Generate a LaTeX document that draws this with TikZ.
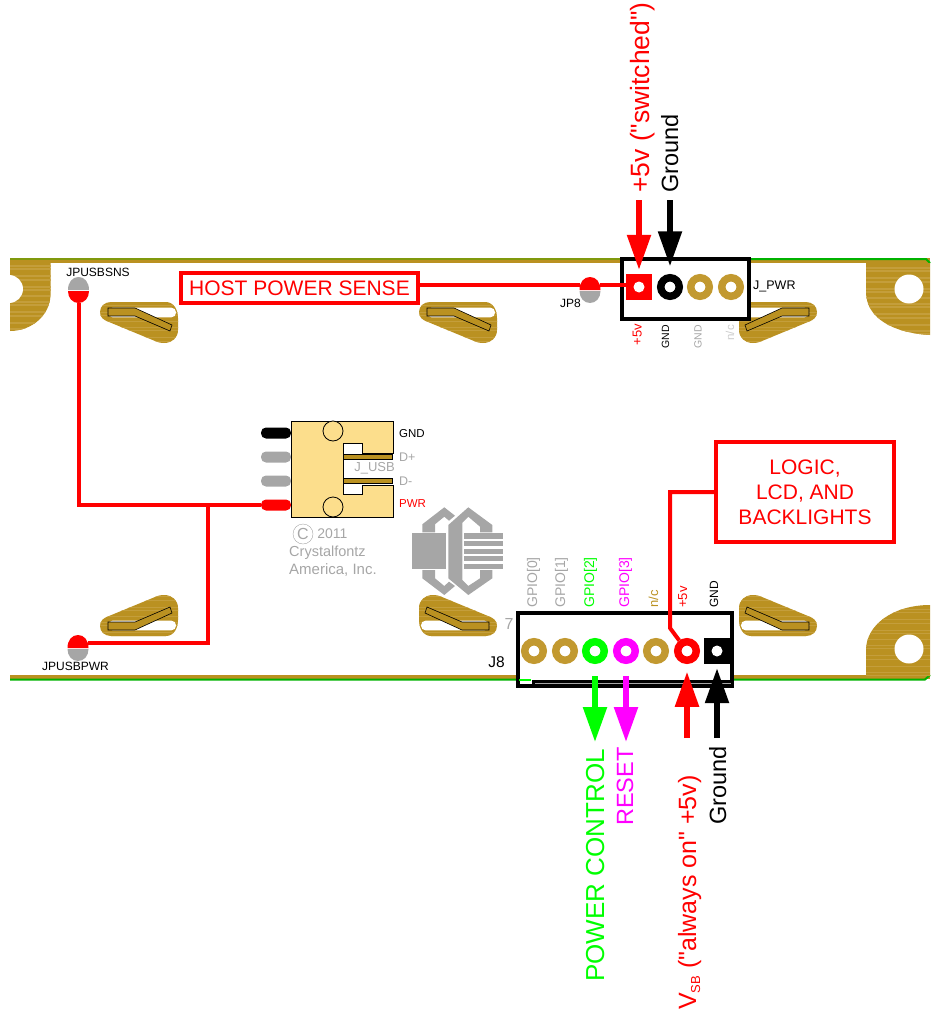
\documentclass[tikz,border=0pt]{standalone}
\usepackage{fontspec}
\setmainfont[Ligatures=TeXOff]{Liberation Sans}
\usepackage{tikz}
\usetikzlibrary{arrows.meta}
\usetikzlibrary{positioning}
\definecolor{cfgold}{rgb}{0.73, 0.57, 0.13}
\definecolor{cfstreak}{rgb}{0.77, 0.62, 0.23}
\definecolor{cfring}{rgb}{0.76, 0.60, 0.19}
\definecolor{cfolive}{rgb}{0.50, 0.60, 0.05}
\definecolor{cfgreen}{rgb}{0, 0.70, 0}
\definecolor{cfgray}{rgb}{0.65, 0.65, 0.65}
\definecolor{cflight}{rgb}{0.80, 0.80, 0.80}
\definecolor{cfyellow}{rgb}{0.99, 0.87, 0.55}
\definecolor{cflime}{rgb}{0, 1, 0}
\definecolor{cfmagenta}{rgb}{1, 0, 1}
\newcommand{\lblsize}[1]{\fontsize{#1}{#1}\selectfont}
\tikzset{wire/.style = {draw=red, line width=4, line join=miter}}
\tikzset{pinarrow/.style = {line width=5.5, -{Triangle[length=35, width=23]}}}
\tikzset{padring/.style = {circle, draw=cfring, fill=white, line width=7.5, inner sep=0, minimum size=18.5}}
\tikzset{padsquare/.style = {rectangle, inner sep=0, minimum size=26}}
\tikzset{padhole/.style = {circle, fill=white, inner sep=0, minimum size=11}}
\tikzset{hdrbox/.style = {rectangle, draw=black, fill=white, line width=4, inner sep=0}}
\tikzset{redbox/.style = {rectangle, draw=red, fill=white, line width=4, inner sep=0, text=red}}
\tikzset{vlabel/.style = {rotate=90, inner sep=0}}
\tikzset{hlabel/.style = {inner sep=0}}
\tikzset{pinwire/.style = {rectangle, rounded corners=5, inner sep=0, minimum width=30, minimum height=11}}
\tikzset{wood/.style = {fill=cfgold, path picture = {
    \foreach \yy in {-58, -53, -47, -44, -37, -31, -28, -21, -17, -10, -7, -1, 5, 8, 15, 19, 26, 32, 35, 42, 47, 54}
      \draw [cfstreak, line width=1.2] ([shift={(-100, \yy)}] path picture bounding box.center) -- ++(200, 0);
  }}}
\tikzset{slot/.pic = {
    \path [wood] (0, 10) .. controls (0, 4) and (5, 0) .. (11, 0) -- (66, 0)
      .. controls (74, 0) and (78, 8) .. (78, 16) -- (78, 28)
      .. controls (78, 36) and (72, 41) .. (64, 41)
      .. controls (60, 41) and (57, 40) .. (55, 39) -- (9, 20)
      .. controls (3, 18) and (0, 15) .. (0, 10) -- cycle;
    \fill [white, rounded corners=4.5] (8, 5.7) rectangle (76, 15.3);
    \draw [fill=cfgold, line width=0.6] (8, 6) -- (35, 6) -- (72, 23) -- (70, 29) -- (35, 14) -- (8, 14) -- cycle;
  }}
\tikzset{pics/jumper/.style 2 args = {code = {
    \fill [#1] (-10.5, 13) .. controls (-10.5, 5) and (-6, 0) .. (0, 0) .. controls (6, 0) and (10.5, 5) .. (10.5, 13) -- cycle;
    \fill [#2] (-10.5, 14) .. controls (-10.5, 21) and (-6, 26) .. (0, 26) .. controls (6, 26) and (10.5, 21) .. (10.5, 14) -- cycle;
  }}}

\begin{document}
\begin{tikzpicture}[x=1pt, y=-1pt]
  \useasboundingbox (0, 0) rectangle (930, 1011);

  % board edges
  \fill [cfgold] (10, 258) rectangle (930, 263);
  \fill [cfolive] (10, 258) rectangle (750, 260);
  \draw [cfgreen, line width=2] (750, 259) -- (926, 259) -- (930, 263);
  \fill [cfgold] (10, 675) rectangle (930, 679);
  \draw [cfgreen, line width=2] (10, 679.5) -- (925, 679.5) -- (930, 675);

  % board corners
  \path [wood] (10, 263) -- (50.5, 263) -- (50.5, 295) .. controls (50, 315) and (32, 331) .. (10, 331) -- cycle;
  \fill [white] (9, 289) circle [radius=14];
  \path [wood] (866, 263) -- (930, 263) -- (930, 335) .. controls (893, 333) and (866, 318) .. (866, 292) -- cycle;
  \fill [white] (909, 289) circle [radius=14.5];
  \path [wood] (866, 676) -- (930, 676) -- (930, 605) .. controls (893, 605) and (866, 625) .. (866, 650) -- cycle;
  \fill [white] (909, 649) circle [radius=14.5];

  \pic at (100, 302) {slot};
  \pic at (419, 302) {slot};
  \pic [xscale=-1] at (817, 302) {slot};
  \pic [yscale=-1] at (100, 636) {slot};
  \pic [xscale=-1, yscale=-1] at (497, 636) {slot};
  \pic [xscale=-1, yscale=-1] at (817, 636) {slot};

  % logo
  \fill [cfgray] (412, 533) rectangle (446, 569);
  \foreach \ya/\yb in {533.3/539.3, 541.3/546.3, 549/553.7, 556.3/561.3, 563.7/569}
    \fill [cfgray] (464, \ya) rectangle (503, \yb);
  \fill [cfgray] (422.3, 532.3) -- (422.3, 524.3) -- (444.3, 507.3) -- (455, 515.7) -- (449, 520.7) -- (444.3, 516.7) -- (435, 524.3) -- (435, 532.3) -- cycle;
  \fill [cfgray] (422.3, 570) -- (422.3, 578.3) -- (444.3, 595) -- (455, 586) -- (449, 581.7) -- (444.3, 586) -- (435, 578.3) -- (435, 570) -- cycle;
  \fill [cfgray] (448.3, 525) -- (468.3, 507.3) -- (492.3, 525) -- (492.3, 532.3) -- (480, 532.3) -- (480, 526.7) -- (468.3, 516.7) -- (462.3, 522.7)
    -- (462.3, 580) -- (468.3, 586) -- (480, 578.3) -- (480, 570) -- (492.3, 570) -- (492.3, 578.3) -- (468.3, 595) -- (448.3, 578.3) -- cycle;

  % USB connector
  \node [pinwire, fill=black] (usbgnd) at (276, 433) {};
  \node [pinwire, fill=cfgray] (usbdp) at (276, 457) {};
  \node [pinwire, fill=cfgray] (usbdm) at (276, 481) {};
  \node [pinwire, fill=red] (usbpwr) at (276, 505) {};
  \draw [fill=cfyellow, line width=0.8] (291, 421) -- (393, 421) -- (393, 453) -- (362, 453) -- (362, 443) -- (343, 443) -- (343, 494) -- (362, 494) -- (362, 485) -- (393, 485) -- (393, 517) -- (291, 517) -- cycle;
  \draw [fill=cfyellow, line width=0.8] (333, 431) circle [radius=10];
  \draw [fill=cfyellow, line width=0.8] (333, 507) circle [radius=10];
  \draw [fill=cfgold, line width=0.5] (343, 454.5) rectangle (392, 459.5);
  \draw [fill=cfgold, line width=0.5] (343, 478.5) rectangle (392, 483.5);
  \node [hlabel, text=cfgray, font=\lblsize{13}] (jusb) at (374.5, 468) {J\_USB};
  \node [hlabel, anchor=west, font=\lblsize{11.5}] (lgnd) at (399, 434) {GND};
  \node [hlabel, anchor=west, text=cfgray, font=\lblsize{12.5}] (ldp) at (399, 457) {D+};
  \node [hlabel, anchor=west, text=cfgray, font=\lblsize{12.5}] (ldm) at (399, 481) {D-};
  \node [hlabel, anchor=west, text=red, font=\lblsize{11.5}] (lpwr) at (399, 504) {PWR};

  % copyright
  \node [circle, draw=cfgray, inner sep=0, minimum size=20, text=cfgray, font=\lblsize{16}] (cmark) at (303, 534) {C};
  \node [hlabel, right=4 of cmark, text=cfgray, font=\lblsize{14}] (cyear) {2011};
  \node [hlabel, anchor=west, text=cfgray, font=\lblsize{14.5}] (cname) at (289, 553) {Crystalfontz};
  \node [hlabel, anchor=west, text=cfgray, font=\lblsize{15}] (caddr) at (289, 570) {America, Inc.};

  % jumpers
  \pic at (78.5, 277) {jumper={cfgray}{red}};
  \pic at (590, 277) {jumper={red}{cfgray}};
  \pic at (78, 635) {jumper={red}{cfgray}};
  \node [hlabel, font=\lblsize{12}] (ljsns) at (98, 272) {JPUSBSNS};
  \node [hlabel, font=\lblsize{12}] (ljp8) at (570.5, 303) {JP8};
  \node [hlabel, font=\lblsize{12}] (ljpwr) at (75.5, 666) {JPUSBPWR};

  % J_PWR header
  \node [hdrbox, minimum width=127, minimum height=60] (jpwr) at (685, 288.5) {};
  \node [padsquare, fill=red] (ppwr) at (639, 287) {};
  \node [padhole] (ppwrh) at (ppwr) {};
  \node [padring, draw=black] (pgnd) at (670, 287) {};
  \node [padring] (pgnd2) at (700, 287) {};
  \node [padring] (pnc) at (731, 287) {};
  \node [hlabel, anchor=west, font=\lblsize{12.5}] (ljpw) at (753, 286) {J\_PWR};
  \node [vlabel, anchor=base east, text=red, font=\lblsize{13}] (tp5) at (641.5, 324) {+5v};
  \node [vlabel, anchor=base east, font=\lblsize{10.5}] (tgnd) at (669, 325) {GND};
  \node [vlabel, anchor=base east, text=cfgray, font=\lblsize{10.5}] (tgnd2) at (701.5, 325) {GND};
  \node [vlabel, anchor=base east, text=cflight, font=\lblsize{11.5}] (tnc) at (734, 325) {n/c};

  % J8 header
  \node [hdrbox, minimum width=214, minimum height=73] (jeight) at (625, 649.5) {};
  \fill [cflime] (519, 679) rectangle (531, 680.5);
  \fill [black] (532, 680) rectangle (733, 687);
  \fill [cfgray] (535, 683) rectangle (731, 684);
  \node [padring] (pg0) at (534, 651) {};
  \node [padring] (pg1) at (565, 651) {};
  \node [padring, draw=cflime] (pg2) at (595, 651) {};
  \node [padring, draw=cfmagenta] (pg3) at (626, 651) {};
  \node [padring] (pn) at (656, 651) {};
  \node [padring, draw=red] (pvsb) at (687, 651) {};
  \node [padsquare, fill=black] (pgj) at (717, 651) {};
  \node [padhole] (pgjh) at (pgj) {};
  \node [hlabel, font=\lblsize{15.5}] (lj8) at (496.5, 662) {J8};
  \node [hlabel, text=cfgray, font=\lblsize{16}] (lseven) at (509, 624) {7};
  \foreach \nm/\xx/\txt/\col/\sz in {b0/537/GPIO[0]/cfgray/14, b1/565/GPIO[1]/cfgray/14, b2/594/GPIO[2]/cflime/14, b3/629/GPIO[3]/cfmagenta/14, b4/658/n\slash c/cfgold/13, b5/687/+5v/red/13, b6/718/GND/black/12}
    \node [vlabel, anchor=base west, text=\col, font=\lblsize{\sz}] (\nm) at (\xx, 608) {\txt};

  % red wires
  \node [redbox, minimum width=237, minimum height=29.5, font=\lblsize{21}] (sensebox) at (299.5, 288) {HOST POWER SENSE};
  \node [redbox, minimum width=178, minimum height=100, align=center, font=\lblsize{21}] (logicbox) at (805, 492) {LOGIC,\\[4pt] LCD, AND\\[4pt] BACKLIGHTS};
  \coordinate (jpl) at (580, 285);
  \coordinate (jpr) at (600, 285);
  \coordinate (jsns) at (78.5, 303);
  \coordinate (jpw) at (88, 643);
  \coordinate (jn) at (208, 505);
  \coordinate (elbow) at (670, 628);
  \draw [wire] (jpl -| sensebox.east) -- (jpl);
  \draw [wire] (jpr) -- (jpr -| ppwr.west);
  \draw [wire] (jsns) |- (usbpwr.west);
  \draw [wire] (jn) |- (jpw);
  \draw [wire] (logicbox.west) -| (elbow) -- (pvsb);

  % signal arrows
  \coordinate (a5v) at (639, 200);
  \coordinate (agnd) at (670, 200);
  \coordinate (acontrol) at (595, 742);
  \coordinate (areset) at (626, 742);
  \coordinate (avsb) at (687, 738);
  \coordinate (agndb) at (717, 738);
  \draw [pinarrow, red, shorten >=4] (a5v) -- (ppwr.north);
  \draw [pinarrow, black, shorten >=7.75] (agnd) -- (pgnd.north);
  \draw [pinarrow, cflime, shorten <=12] (pg2.south) -- (acontrol);
  \draw [pinarrow, cfmagenta, shorten <=12] (pg3.south) -- (areset);
  \draw [pinarrow, red, shorten >=7.75] (avsb) -- (pvsb.south);
  \draw [pinarrow, black, shorten >=4] (agndb) -- (pgj.south);

  \node [vlabel, anchor=base west, text=red, font=\lblsize{26.5}] (t5v) at (649, 193) {+5v ("switched")};
  \node [vlabel, anchor=base west, font=\lblsize{23.5}] (tground) at (678, 193) {Ground};
  \node [vlabel, anchor=base west, text=cflime, font=\lblsize{26}] (tcontrol) at (604, 982) {POWER CONTROL};
  \node [vlabel, anchor=base west, text=cfmagenta, font=\lblsize{23.5}] (treset) at (633, 826) {RESET};
  \node [vlabel, anchor=base west, text=red, font=\lblsize{25}] (tvsb) at (696, 1010) {V\raisebox{-4pt}{\lblsize{13}SB} ("always on" +5v)};
  \node [vlabel, anchor=base west, font=\lblsize{23.5}] (tgroundb) at (726, 825) {Ground};
\end{tikzpicture}
\end{document}
